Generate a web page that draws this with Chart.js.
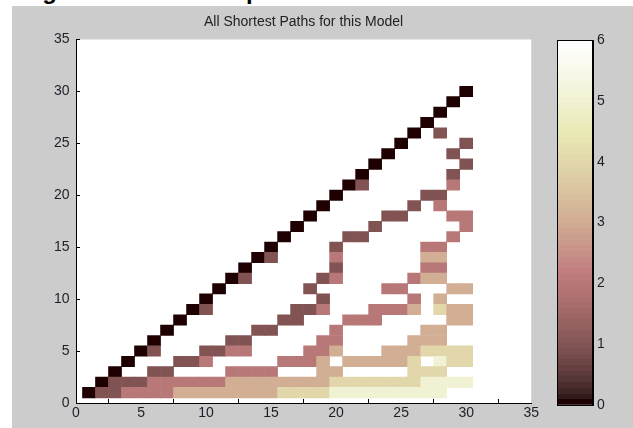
<!DOCTYPE html>
<html>
<head>
<meta charset="utf-8">
<script src="https://cdn.jsdelivr.net/npm/chart.js@4.4.0/dist/chart.umd.min.js"></script>
<style>
body{margin:0;background:#fff;width:633px;height:428px;overflow:hidden;position:relative}
#fig{position:absolute;left:12px;top:6px;width:621px;height:422px;background:#cccccc}
#main{position:absolute;left:0;top:0}
#cbar{position:absolute;left:545px;top:0}
.frag{position:absolute;top:-23px;font:bold 24px "Liberation Sans",Arial,sans-serif;color:#000;line-height:normal}
</style>
</head>
<body>
<div id="fig"></div>
<div class="frag" style="left:21px">Fig</div>
<div class="frag" style="left:246px">p</div>
<canvas id="main" width="545" height="428"></canvas>
<canvas id="cbar" width="88" height="428"></canvas>
<script>
let chartTitle = "All Shortest Paths for this Model"
let axisTicks = [0, 35, 5]      // min, max, step
let barTicks = [0, 6, 1]

// path length matrix, first string is row 30, last is row 1, '.' = no value
let pathRows = [
".............................0",
"............................0.",
"...........................0..",
"..........................0...",
".........................0.1..",
"........................0....1",
".......................0....1.",
"......................0......1",
".....................0......1.",
"....................01......2.",
"...................0......11..",
"..................0......1.2..",
".................0.....11...22",
"................0.....1......2",
"...............0....11......2.",
"..............0....1......22..",
".............01....2......33..",
"............0......1......22..",
"...........01.....12.....233..",
"..........0......1.....22...33",
".........0........1......2.3..",
"........01......112...2223.433",
".......0.......11...222.....33",
"......0......11....2......33..",
".....0.....11.....22.....333..",
"....01...1122....223...3334444",
"...0...112.....2223.333334.544",
"..0..11....2222...33.....444..",
".01112222223333333344444445555",
"0112222333333334444555555555.."
]

let font = {family: "'Liberation Sans', Arial, sans-serif", size: 14}
let textColor = "#1e1e28"

// matlab pink colormap, 64 entries
function pinkMap(m){
  let n = Math.floor(3 / 8 * m)
  let out = []
  for(let k = 0; k < m; k++){
    let gray = k / (m - 1)
    let hr = k < n ? (k + 1) / n : 1
    let hg = k < n ? 0 : (k < 2 * n ? (k + 1 - n) / n : 1)
    let hb = k < 2 * n ? 0 : (k + 1 - 2 * n) / (m - 2 * n)
    let c = [hr, hg, hb].map(h => Math.round(255 * Math.sqrt((2 * gray + h) / 3)))
    out.push("rgb(" + c.join(",") + ")")
  }
  return out
}
let cmap = pinkMap(64)

function colorFor(v){
  let k = Math.floor((v - barTicks[0]) / (barTicks[1] - barTicks[0]) * cmap.length)
  return cmap[Math.max(0, Math.min(cmap.length - 1, k))]
}

let cells = []
pathRows.forEach((row, r) => {
  let j = pathRows.length - r
  for(let c = 0; c < row.length; c++){
    if(row[c] === ".") continue
    cells.push({x: c + 1, y: [j - 0.5, j + 0.5], v: Number(row[c])})
  }
})

let plotBg = {
  id: "plotBg",
  beforeDraw(chart){
    let a = chart.chartArea, c = chart.ctx
    c.save()
    c.fillStyle = "#fff"
    c.fillRect(a.left, a.top, a.right - a.left, a.bottom - a.top)
    c.restore()
  }
}

let boxFrame = {
  id: "boxFrame",
  afterDraw(chart){
    let a = chart.chartArea, c = chart.ctx
    c.save()
    c.strokeStyle = "#000"
    c.lineWidth = 1
    c.strokeRect(Math.round(a.left) + 0.5, Math.round(a.top) + 0.5, Math.round(a.right - a.left) - 1, Math.round(a.bottom - a.top))
    c.restore()
  }
}

function inwardAxis(range, extra){
  return Object.assign({
    type: "linear",
    min: range[0],
    max: range[1],
    z: 1,
    ticks: {stepSize: range[2], color: textColor, font: font, autoSkip: false},
    grid: {drawOnChartArea: false, tickLength: -4, color: "#000", lineWidth: 1},
    border: {color: "#000", width: 1}
  }, extra)
}

new Chart(document.getElementById("main"), {
  type: "bar",
  data: {
    datasets: [{
      data: cells,
      backgroundColor: ctx => ctx.raw ? colorFor(ctx.raw.v) : "#fff",
      borderWidth: 0,
      barPercentage: 1,
      categoryPercentage: 1
    }]
  },
  options: {
    responsive: false,
    animation: false,
    layout: {padding: {top: 0, left: 0, right: 13, bottom: 0}},
    plugins: {
      legend: {display: false},
      tooltip: {enabled: false},
      title: {
        display: true,
        text: chartTitle,
        fullSize: false,
        color: "#222",
        font: {family: font.family, size: 14, weight: "normal"},
        padding: {top: 14, bottom: 8.7}
      }
    },
    scales: {
      x: inwardAxis(axisTicks, {
        offset: false,
        afterFit(s){ s.height = 25 }
      }),
      y: inwardAxis(axisTicks, {
        afterFit(s){ s.width = 76 }
      })
    }
  },
  plugins: [plotBg]
})
Chart.getChart("main").options.scales.x.ticks.padding = 6
Chart.getChart("main").options.scales.y.ticks.padding = 10.5
Chart.getChart("main").update()

new Chart(document.getElementById("cbar"), {
  type: "bar",
  data: {
    labels: [""],
    datasets: [{
      data: [barTicks[1]],
      backgroundColor: function(ctx){
        let a = ctx.chart.chartArea
        if(!a) return null
        let g = ctx.chart.ctx.createLinearGradient(0, a.bottom, 0, a.top)
        cmap.forEach((col, k) => {
          g.addColorStop(k / cmap.length, col)
          g.addColorStop((k + 1) / cmap.length, col)
        })
        return g
      },
      borderWidth: 0,
      barPercentage: 1,
      categoryPercentage: 1
    }]
  },
  options: {
    responsive: false,
    animation: false,
    layout: {padding: {top: 40, bottom: 23, left: 0, right: 0}},
    plugins: {legend: {display: false}, tooltip: {enabled: false}},
    scales: {
      x: {display: false},
      y: inwardAxis(barTicks, {
        position: "right",
        afterFit(s){ s.width = 40 }
      }),
      yl: inwardAxis(barTicks, {
        axis: "y",
        position: "left",
        afterFit(s){ s.width = 12 }
      })
    }
  },
  plugins: [boxFrame]
})
let cb = Chart.getChart("cbar")
cb.options.scales.y.ticks.padding = 8
cb.options.scales.yl.ticks.display = false
cb.update()
</script>
</body>
</html>
